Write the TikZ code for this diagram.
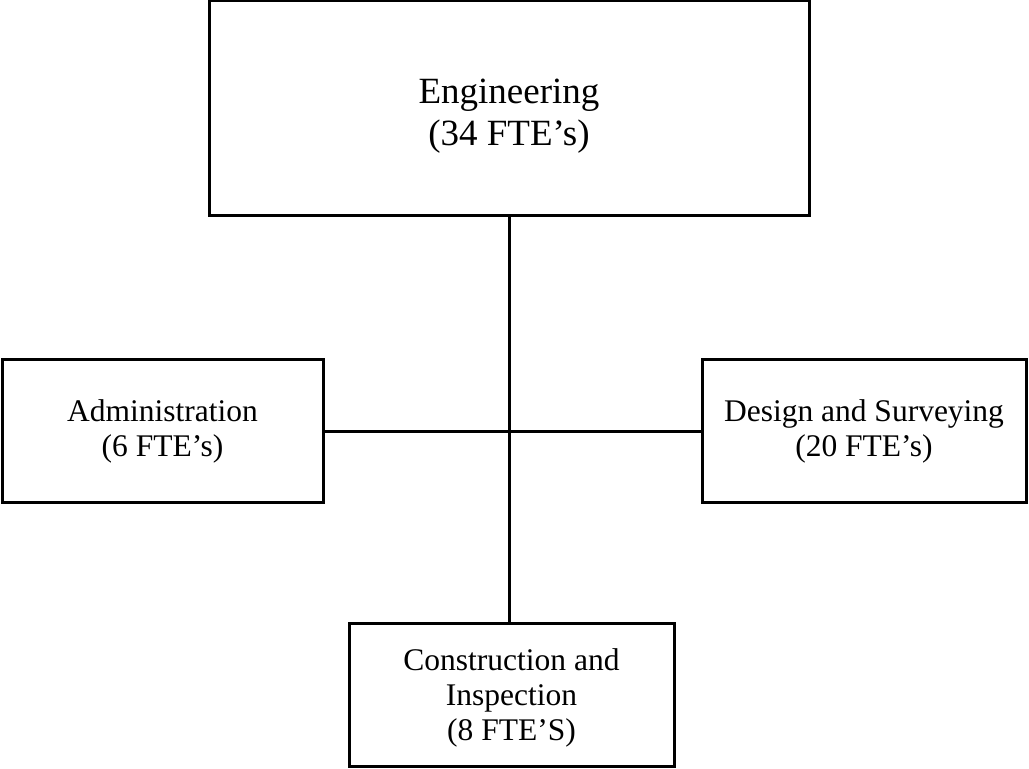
\documentclass[tikz,border=0pt]{standalone}
\usepackage{fontspec}
\setmainfont{Liberation Serif}
\tikzset{
  dept/.style={draw, line width=3pt, align=center, inner sep=0pt},
  bigdept/.style={dept, minimum width=600pt, minimum height=215pt,
    font=\fontsize{37}{42}\selectfont},
  subdept/.style={dept, minimum height=143pt,
    font=\fontsize{31.5}{35}\selectfont}
}
\begin{document}
\begin{tikzpicture}[x=1pt,y=1pt]
      \useasboundingbox (0,0) rectangle (1029,769);
      \draw
        (509,660.5) node[bigdept] (eng) {\rule{0pt}{40pt}Engineering\\(34 FTE's)}
        (162.5,337.5) node[subdept, minimum width=321pt] (adm) {Administration\\(6 FTE's)}
        (864,337.5) node[subdept, minimum width=324pt] (des) {Design and Surveying\\(20 FTE's)}
        (511.5,73.5) node[subdept, minimum width=325pt] (con) {\rule{0pt}{27pt}Construction and\\Inspection\\(8 FTE'S)};
      \begin{scope}[-, line width=3pt]
        \draw (adm.east) to (des.west);
        \draw (eng.south) to (eng.south |- con.north);
      \end{scope}
    \end{tikzpicture}
\end{document}
